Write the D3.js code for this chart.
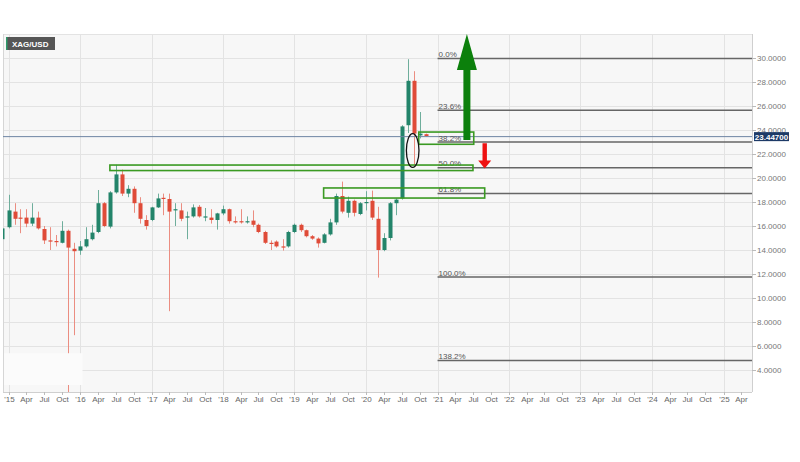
<!DOCTYPE html>
<html><head><meta charset="utf-8">
<script src="https://cdn.jsdelivr.net/npm/d3@7"></script>
<style>
body{margin:0;background:#fff}
svg{display:block}
text{font-family:"Liberation Sans",Arial,sans-serif}
</style>
</head><body>
<svg id="c" width="800" height="462"></svg>
<script>
// ---- data ----
const symbol = "XAG/USD";
const months = ["2014-12",
 "2015-01","2015-02","2015-03","2015-04","2015-05","2015-06","2015-07","2015-08","2015-09","2015-10","2015-11","2015-12",
 "2016-01","2016-02","2016-03","2016-04","2016-05","2016-06","2016-07","2016-08","2016-09","2016-10","2016-11","2016-12",
 "2017-01","2017-02","2017-03","2017-04","2017-05","2017-06","2017-07","2017-08","2017-09","2017-10","2017-11","2017-12",
 "2018-01","2018-02","2018-03","2018-04","2018-05","2018-06","2018-07","2018-08","2018-09","2018-10","2018-11","2018-12",
 "2019-01","2019-02","2019-03","2019-04","2019-05","2019-06","2019-07","2019-08","2019-09","2019-10","2019-11","2019-12",
 "2020-01","2020-02","2020-03","2020-04","2020-05","2020-06","2020-07","2020-08","2020-09","2020-10","2020-11"];
const open = [14.9,
 15.9,17.2,16.7,16.7,16.2,16.7,15.75,14.8,14.75,14.6,15.6,14.1,
 13.95,14.3,14.9,15.5,17.9,15.95,18.8,20.3,18.7,19.1,17.9,16.5,
 16.5,17.55,18.35,18.25,17.3,17.3,16.7,16.8,17.6,16.7,16.7,16.5,
 17.05,17.4,16.4,16.4,16.3,16.45,16.1,15.5,14.6,14.7,14.3,14.3,
 15.5,16.1,15.65,15.15,14.95,14.6,15.3,16.3,18.5,17.1,18.1,17.0,
 17.9,18.1,16.6,14.0,15.0,17.9,18.3,24.4,28.1,23.55,23.65];
const high = [16.0,
 18.6,17.9,17.4,17.4,17.9,17.2,16.0,15.9,15.25,16.4,15.7,14.6,
 14.75,15.9,16.1,19.0,18.0,18.9,21.1,20.7,19.4,19.3,18.4,16.9,
 17.6,18.7,18.7,18.7,17.9,17.9,17.2,17.8,17.75,17.5,17.4,17.1,
 17.7,17.45,16.8,17.4,16.8,17.3,16.2,15.6,14.8,14.8,14.9,15.6,
 16.2,16.2,15.7,15.25,15.05,15.4,16.6,18.7,19.7,18.45,18.2,18.0,
 18.9,18.95,17.6,15.4,18.0,18.3,24.4,29.9,28.9,25.5,23.7];
const low = [14.6,
 15.8,16.1,15.4,15.9,16.0,15.7,14.5,14.0,14.3,14.55,2.0,6.9,
 13.6,14.2,14.8,15.4,15.9,15.8,18.7,18.5,18.4,17.1,16.2,15.7,
 16.4,17.5,16.9,8.9,16.0,16.4,14.9,16.7,16.7,16.4,16.2,15.7,
 16.9,16.2,16.2,16.2,16.2,15.9,15.4,14.5,14.0,14.2,13.95,14.2,
 15.4,15.5,15.05,14.85,14.2,14.55,15.2,16.1,17.05,16.7,16.8,16.9,
 17.3,16.5,11.7,13.9,14.8,16.9,18.2,23.75,21.1,23.3,23.45];
const close = [15.8,
 17.3,16.6,16.6,16.2,16.7,15.8,14.8,14.7,14.65,15.6,14.2,13.9,
 14.3,14.9,15.45,17.9,16.0,18.8,20.3,18.7,19.1,17.9,16.6,16.0,
 17.55,18.3,18.25,17.2,17.4,16.6,16.8,17.55,16.8,16.8,16.5,17.05,
 17.4,16.4,16.3,16.3,16.4,16.1,15.5,14.6,14.5,14.3,14.2,15.5,
 16.1,15.65,15.15,14.95,14.55,15.3,16.3,18.5,17.2,18.1,17.1,17.9,
 18.0,16.7,14.0,15.0,17.9,18.2,24.3,28.1,23.7,23.7,23.5];
const lastPrice = 23.447;
const lastPriceLabel = "23.44700";

const yTicks = [4,6,8,10,12,14,16,18,20,22,24,26,28,30];
const yTickLabels = ["4.0000","6.0000","8.0000","10.0000","12.0000","14.0000","16.0000","18.0000","20.0000","22.0000","24.0000","26.0000","28.0000","30.0000"];
const xTickLabels = ["'15","Apr","Jul","Oct","'16","Apr","Jul","Oct","'17","Apr","Jul","Oct",
 "'18","Apr","Jul","Oct","'19","Apr","Jul","Oct","'20","Apr","Jul","Oct",
 "'21","Apr","Jul","Oct","'22","Apr","Jul","Oct","'23","Apr","Jul","Oct",
 "'24","Apr","Jul","Oct","'25","Apr"];

// Fibonacci retracement
const fibHigh = 29.95, fibLow = 11.75;
const fibRatios = [0, 0.236, 0.382, 0.5, 0.618, 1.0, 1.382];
const fibLabels = ["0.0%","23.6%","38.2%","50.0%","61.8%","100.0%","138.2%"];
const fibStart = "2021-01-01";

// annotation boxes: [startDate, endDate, top price, bottom price]
const boxStart = ["2020-09-27","2016-06-02","2019-05-30"];
const boxEnd   = ["2021-07-05","2021-07-01","2021-08-30"];
const boxTop   = [23.83, 21.08, 19.17];
const boxBot   = [22.81, 20.62, 18.33];

// arrows
const upArrow = {date:"2021-05-31", tail:23.17, headBase:29.0, tip:32.0};
const downArrow = {date:"2021-08-30", tail:22.9, headBase:21.45, tip:20.8};
// ellipse around September wick
const ellipse = {date:"2020-08-27", price:22.29, ryPrice:1.4};

// ---- drawing ----
const svg = d3.select("#c");
const L = 3, R = 752, T = 34, B = 392;
const pm = d3.timeParse("%Y-%m"), pd = d3.timeParse("%Y-%m-%d");
const x = d3.scaleTime().domain([new Date(2015,0,1), new Date(2025,0,1)]).range([8.5, 723.5]);
const y = d3.scaleLinear().domain([2.1667, 32]).range([B, T]);

svg.append("rect").attr("x",L).attr("y",T).attr("width",R-L).attr("height",B-T).attr("fill","#f7f7f7");

// grid
const xTickDates = d3.timeMonth.every(3).range(new Date(2015,0,1), new Date(2025,3,2));
const grid = svg.append("g");
grid.selectAll("line.h").data(yTicks.concat([32])).join("line")
  .attr("x1",L).attr("x2",R).attr("y1",d=>Math.round(y(d))+0.5).attr("y2",d=>Math.round(y(d))+0.5)
  .attr("stroke","#e3e3e3");
grid.selectAll("line.v").data(xTickDates.filter(d=>d.getMonth()===0)).join("line")
  .attr("x1",d=>Math.round(x(d))+0.5).attr("x2",d=>Math.round(x(d))+0.5).attr("y1",T).attr("y2",B)
  .attr("stroke","#e3e3e3");
svg.append("line").attr("x1",L+0.5).attr("x2",L+0.5).attr("y1",T).attr("y2",B).attr("stroke","#d6d6d6");

// clip
svg.append("clipPath").attr("id","pc").append("rect").attr("x",L).attr("y",T).attr("width",R-L).attr("height",B-T);
const plot = svg.append("g").attr("clip-path","url(#pc)");

// candles
const candles = months.map((m,i)=>({d:pm(m), o:open[i], h:high[i], l:low[i], c:close[i]}));
const up = "#23846a", dn = "#df4b38";
const cg = plot.append("g");
cg.selectAll("line").data(candles).join("line")
  .attr("x1",d=>Math.round(x(d.d))+0.5).attr("x2",d=>Math.round(x(d.d))+0.5)
  .attr("y1",d=>y(d.h)).attr("y2",d=>y(d.l))
  .attr("stroke",d=>d.c>=d.o?"#6fae9c":"#eb8d81").attr("stroke-width",1);
cg.selectAll("rect").data(candles).join("rect")
  .attr("x",d=>Math.round(x(d.d))-1.5).attr("width",4)
  .attr("y",d=>y(Math.max(d.o,d.c)))
  .attr("height",d=>Math.max(1.2, Math.abs(y(d.o)-y(d.c))))
  .attr("fill",d=>d.c>=d.o?up:dn);

// bottom-left overlay patch
plot.append("rect").attr("x",L+1).attr("width",x(new Date(2016,0,14))-L-1)
  .attr("y",y(5.4)).attr("height",y(2.75)-y(5.4)).attr("fill","#fbfbfb");

// last price line
plot.append("line").attr("x1",L).attr("x2",R).attr("y1",y(lastPrice)).attr("y2",y(lastPrice))
  .attr("stroke","#6d84a3").attr("stroke-width",1);

// fib lines
const fg = plot.append("g");
fibRatios.forEach((r,i)=>{
  const v = fibHigh - r*(fibHigh-fibLow);
  fg.append("line").attr("x1",x(pd(fibStart))).attr("x2",R).attr("y1",y(v)).attr("y2",y(v))
    .attr("stroke","#666").attr("stroke-width",1.5);
  fg.append("text").attr("x",x(pd(fibStart))+1).attr("y",y(v)-1.5).text(fibLabels[i])
    .attr("font-size",8).attr("fill","#555");
});

// green boxes
boxStart.forEach((s,i)=>{
  const x0 = x(pd(s)), x1 = x(pd(boxEnd[i]));
  plot.append("rect").attr("x",x0).attr("y",y(boxTop[i])).attr("width",x1-x0)
    .attr("height",y(boxBot[i])-y(boxTop[i])).attr("fill","none")
    .attr("stroke","#3a9a22").attr("stroke-width",1.6);
});

// ellipse
plot.append("ellipse").attr("cx",x(pd(ellipse.date))).attr("cy",y(ellipse.price))
  .attr("rx",6.3).attr("ry",y(ellipse.price-ellipse.ryPrice)-y(ellipse.price))
  .attr("fill","none").attr("stroke","#111").attr("stroke-width",1.3);

// arrows
function arrowPath(a, shaftHalf, headHalf){
  const cx = x(pd(a.date));
  return `M${cx-shaftHalf},${y(a.tail)} L${cx-shaftHalf},${y(a.headBase)} L${cx-headHalf},${y(a.headBase)}
          L${cx},${y(a.tip)} L${cx+headHalf},${y(a.headBase)} L${cx+shaftHalf},${y(a.headBase)} L${cx+shaftHalf},${y(a.tail)} Z`;
}
svg.append("path").attr("d",arrowPath(upArrow,3.5,10)).attr("fill","#0c800c");
plot.append("path").attr("d",arrowPath(downArrow,2.2,6.5)).attr("fill","#ee1111");

// right axis
svg.append("line").attr("x1",R+0.5).attr("x2",R+0.5).attr("y1",T).attr("y2",B).attr("stroke","#cfcfcf");
const ya = svg.append("g");
yTicks.forEach((t,i)=>{
  ya.append("line").attr("x1",R).attr("x2",R+4).attr("y1",Math.round(y(t))+0.5).attr("y2",Math.round(y(t))+0.5).attr("stroke","#bbb");
  ya.append("text").attr("x",R+5).attr("y",y(t)+3).text(yTickLabels[i]).attr("font-size",8).attr("fill","#777");
});
// last price tag
const ly = y(lastPrice);
svg.append("rect").attr("x",R+2).attr("y",ly-4.5).attr("width",35).attr("height",9).attr("fill","#1d3a67");
svg.append("text").attr("x",R+19.5).attr("y",ly+3).attr("text-anchor","middle").text(lastPriceLabel)
  .attr("font-size",8).attr("font-weight","bold").attr("fill","#fff");

// bottom axis
svg.append("line").attr("x1",L).attr("x2",R).attr("y1",B+0.5).attr("y2",B+0.5).attr("stroke","#cfcfcf");
const xa = svg.append("g");
xTickDates.forEach((d,i)=>{
  const px = Math.round(x(d))+0.5;
  xa.append("line").attr("x1",px).attr("x2",px).attr("y1",B).attr("y2",B+3).attr("stroke","#bbb");
  xa.append("text").attr("x",px).attr("y",B+10).attr("text-anchor","middle").text(xTickLabels[i])
    .attr("font-size",8).attr("fill","#666");
});

// symbol label
svg.append("rect").attr("x",6).attr("y",37).attr("width",49).attr("height",13).attr("fill","#565656");
svg.append("rect").attr("x",6).attr("y",37).attr("width",1.5).attr("height",13).attr("fill","#2e9a6a");
svg.append("text").attr("x",12).attr("y",46.5).text(symbol).attr("font-size",8).attr("font-weight","bold").attr("fill","#fff");
</script>
</body></html>
